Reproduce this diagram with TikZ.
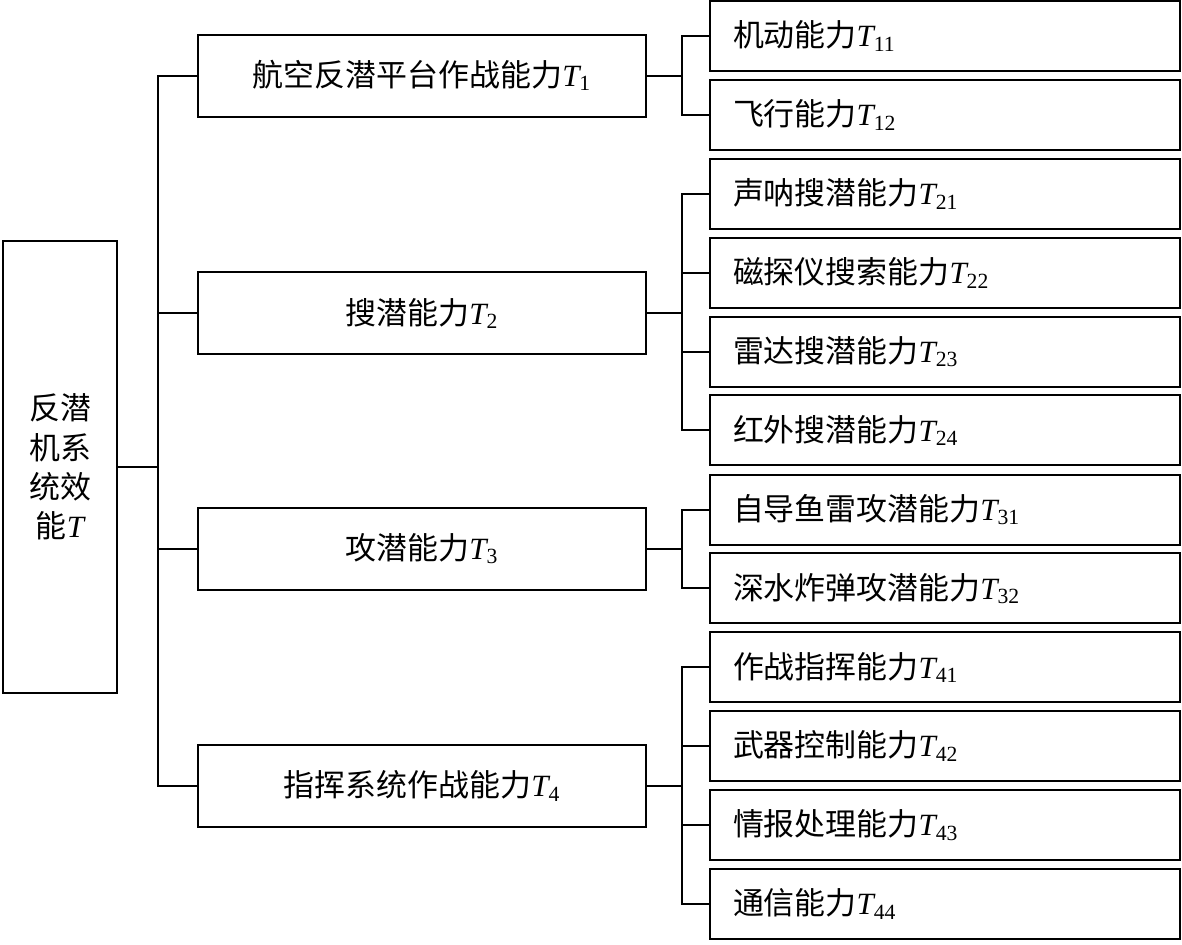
\documentclass[tikz,border=0pt]{standalone}
\usepackage{fontspec}
\newfontfamily\cjk{Noto Sans CJK SC}
\newfontfamily\tnr{Liberation Serif}
\newcommand{\tvar}[1]{{\tnr\itshape T}\textsubscript{\tnr #1}}
\usepackage{tikz}
\usetikzlibrary{positioning,calc}

\begin{document}
\begin{tikzpicture}[
  rootbox/.style={rectangle, draw, line width=1.5pt, minimum width=2.85cm, minimum height=11.3cm, align=center, inner sep=0pt, font={\cjk\fontsize{22}{28}\selectfont}},
  midbox/.style={rectangle, draw, line width=1.5pt, minimum width=11.2cm, minimum height=2.05cm, align=center, font={\cjk\fontsize{22}{28}\selectfont}},
  leafbox/.style={rectangle, draw, line width=1.5pt, text width=10.6cm, inner xsep=0.575cm, minimum height=1.75cm, align=left, font={\cjk\fontsize{22}{28}\selectfont}},
  link/.style={line width=1.5pt}
]
\useasboundingbox (0,0) rectangle (29.55,-23.625);

% Root
\node[rootbox] (root) at (1.5,-11.675) {反潜\\机系\\统效\\能{\tnr\itshape T}};

% Second level
\node[midbox] (t1) at (10.55,-1.89) {航空反潜平台作战能力\tvar{1}};
\node[midbox] (t2) at (10.55,-7.83) {搜潜能力\tvar{2}};
\node[midbox] (t3) at (10.55,-13.72) {攻潜能力\tvar{3}};
\node[midbox] (t4) at (10.55,-19.65) {指挥系统作战能力\tvar{4}};

% Leaves
\node[leafbox] (t11) at (23.625,-0.90) {机动能力\tvar{11}};
\node[leafbox] (t12) at (23.625,-2.87) {飞行能力\tvar{12}};
\node[leafbox] (t21) at (23.625,-4.85) {声呐搜潜能力\tvar{21}};
\node[leafbox] (t22) at (23.625,-6.82) {磁探仪搜索能力\tvar{22}};
\node[leafbox] (t23) at (23.625,-8.79) {雷达搜潜能力\tvar{23}};
\node[leafbox] (t24) at (23.625,-10.76) {红外搜潜能力\tvar{24}};
\node[leafbox] (t31) at (23.625,-12.74) {自导鱼雷攻潜能力\tvar{31}};
\node[leafbox] (t32) at (23.625,-14.71) {深水炸弹攻潜能力\tvar{32}};
\node[leafbox] (t41) at (23.625,-16.68) {作战指挥能力\tvar{41}};
\node[leafbox] (t42) at (23.625,-18.65) {武器控制能力\tvar{42}};
\node[leafbox] (t43) at (23.625,-20.63) {情报处理能力\tvar{43}};
\node[leafbox] (t44) at (23.625,-22.60) {通信能力\tvar{44}};

% Trunk from root
\coordinate (trunk) at (3.95,-11.675);
\draw[link] (root.east) -- (trunk);
\foreach \m in {t1,t2,t3,t4}
  \draw[link] (trunk) |- (\m.west);

% Branches to leaves
\foreach \c in {t11,t12}
  \draw[link] (t1.east) -| ([xshift=-0.675cm]\c.west) -- (\c.west);
\foreach \c in {t21,t22,t23,t24}
  \draw[link] (t2.east) -| ([xshift=-0.675cm]\c.west) -- (\c.west);
\foreach \c in {t31,t32}
  \draw[link] (t3.east) -| ([xshift=-0.675cm]\c.west) -- (\c.west);
\foreach \c in {t41,t42,t43,t44}
  \draw[link] (t4.east) -| ([xshift=-0.675cm]\c.west) -- (\c.west);

\end{tikzpicture}
\end{document}
